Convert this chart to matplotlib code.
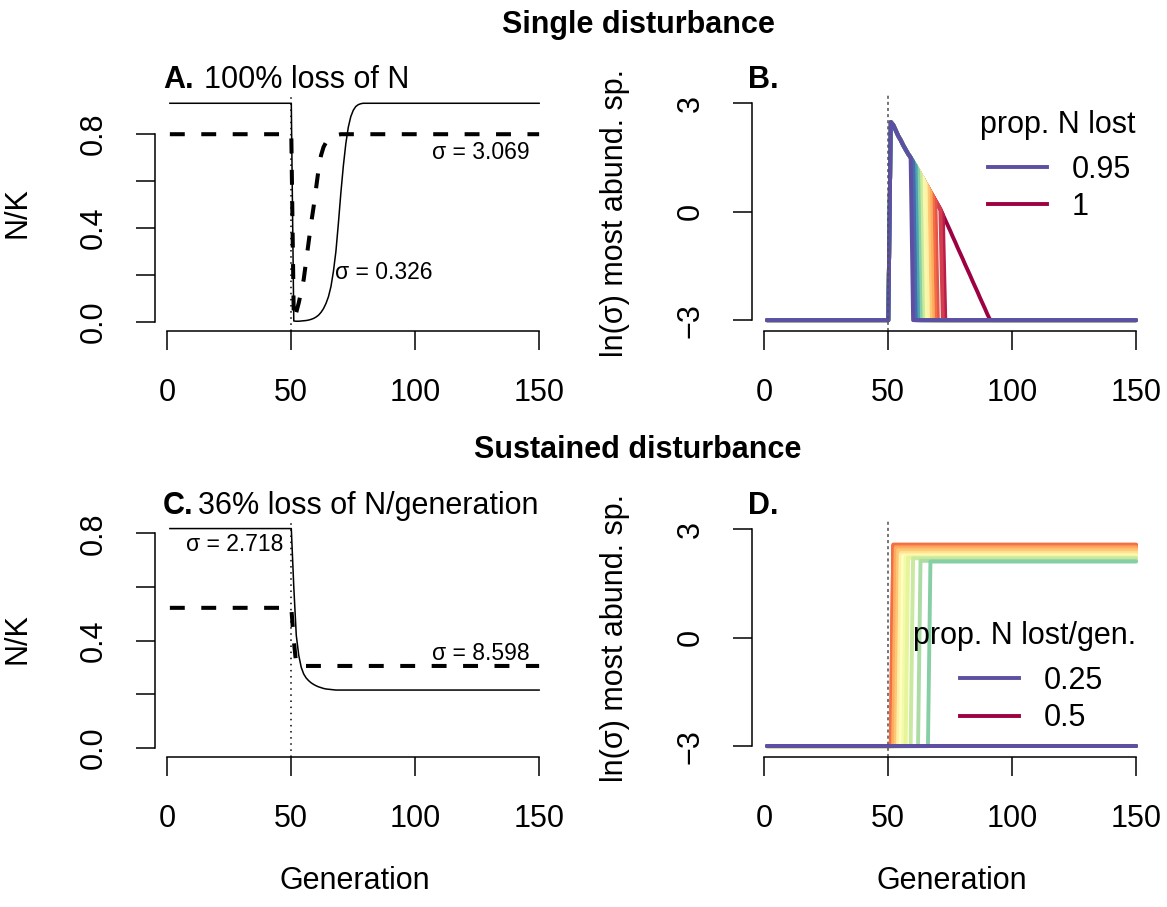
import numpy as np
import matplotlib
matplotlib.use("Agg")
from matplotlib import pyplot as plt
from matplotlib.lines import Line2D

plt.rcParams['font.family'] = ['Liberation Sans', 'DejaVu Sans']

generation = np.arange(1, 151)
n_gen = len(generation)
dist_gen = 50

# Panel A: N/K after a single 100% loss (values for generations 51..)
a_solid_level = 0.932
a_solid_recovery = [0.003, 0.002, 0.002, 0.003, 0.004, 0.005, 0.007, 0.010, 0.014, 0.020,
                    0.028, 0.040, 0.056, 0.078, 0.107, 0.150, 0.215, 0.300, 0.420, 0.550,
                    0.665, 0.760, 0.830, 0.875, 0.902, 0.918, 0.926, 0.930]
a_dashed_level = 0.80
a_dashed_recovery = [0.01, 0.04, 0.08, 0.13, 0.18, 0.26, 0.34, 0.42, 0.49, 0.57,
                     0.65, 0.71, 0.745, 0.765, 0.778, 0.786, 0.792, 0.796, 0.798]

# Panel C: N/K under a sustained 36% loss per generation
c_solid_before = 0.818
c_solid_decay = [0.60, 0.42, 0.345, 0.30, 0.275, 0.26, 0.25, 0.242, 0.236, 0.231,
                 0.227, 0.224, 0.221, 0.219, 0.218, 0.217, 0.216]
c_solid_after = 0.215
c_dashed_before = 0.522
c_dashed_decay = [0.40, 0.31]
c_dashed_after = 0.305

# Panel B: ln(sigma) of most abundant species, single disturbance
b_levels = [0.95, 0.9525, 0.955, 0.9575, 0.96, 0.9625, 0.965, 0.9675, 0.97, 0.9725, 0.975,
            0.9775, 0.98, 0.9825, 0.985, 0.9875, 0.99, 0.9925, 0.995, 0.9975, 1.0]
b_last_gen = [59, 60, 60, 61, 61, 62, 62, 63, 63, 64, 64,
              65, 65, 66, 67, 67, 68, 69, 71, 72, 91]
# ln(sigma) for generations 51..91
b_envelope = [2.48, 2.40, 2.25, 2.10, 1.98, 1.84, 1.72, 1.60, 1.50, 1.38,
              1.27, 1.15, 1.03, 0.91, 0.79, 0.67, 0.55, 0.43, 0.31, 0.19,
              0.07, -0.08, -0.23, -0.38, -0.53, -0.69, -0.84, -1.00, -1.15, -1.30,
              -1.46, -1.61, -1.76, -1.92, -2.07, -2.22, -2.38, -2.53, -2.68, -2.84, -2.98]
b_floor = -3.0

# Panel D: ln(sigma), sustained disturbance (None = stays at floor)
d_levels = [0.25, 0.2625, 0.275, 0.2875, 0.3, 0.3125, 0.325, 0.3375, 0.35, 0.3625, 0.375,
            0.3875, 0.4, 0.4125, 0.425, 0.4375, 0.45, 0.4625, 0.475, 0.4875, 0.5]
d_jump_gen = [None, None, None, None, None, 67, 63, 60, 58, 57, 56,
              55, 55, 54, 53, 53, 52, 52, None, None, None]
d_plateau = [None, None, None, None, None, 2.11, 2.13, 2.20, 2.22, 2.23, 2.25,
             2.30, 2.35, 2.42, 2.48, 2.52, 2.58, 2.55, None, None, None]
d_floor = -3.0


def build(before, middle, after):
    middle = np.asarray(middle, dtype=float)
    return np.concatenate([np.full(dist_gen, before), middle,
                           np.full(n_gen - dist_gen - len(middle), after)])


def px_rect(left, top, right, bottom):
    W, H = 1167.0, 907.0
    return [left / W, 1 - bottom / H, (right - left) / W, (bottom - top) / H]


def style_axes(ax, yticks, ylabels):
    for s in ['top', 'right']:
        ax.spines[s].set_visible(False)
    for s in ['left', 'bottom']:
        ax.spines[s].set_linewidth(1.1)
    ax.spines['left'].set_bounds(yticks[0], yticks[-1])
    ax.spines['bottom'].set_bounds(0, 150)
    ax.set_xticks([0, 50, 100, 150])
    ax.set_yticks(yticks, ylabels)
    ax.tick_params(length=13.7, width=1.1, labelsize=22)
    ax.tick_params(axis='x', pad=20)
    ax.tick_params(axis='y', pad=19.5, labelrotation=90)
    for lab in ax.get_yticklabels():
        lab.set_va('center')


fig = plt.figure(figsize=(11.67, 9.07), dpi=100)
axA = fig.add_axes(px_rect(155, 94.6, 554, 331))
axB = fig.add_axes(px_rect(752, 94.6, 1151, 331))
axC = fig.add_axes(px_rect(155, 520, 554, 757))
axD = fig.add_axes(px_rect(752, 520, 1151, 757))

spectral = plt.get_cmap('Spectral')
dash = (3.7, 4.1)

# A
axA.plot(generation, build(a_solid_level, a_solid_recovery, a_solid_level), color='black', lw=1.1)
axA.plot(generation, build(a_dashed_level, a_dashed_recovery, a_dashed_level), color='black',
         lw=2.9, dashes=dash)
axA.axvline(dist_gen, color='black', lw=1.1, linestyle=(0, (1, 3)))
axA.set_xlim(-5, 156)
axA.set_ylim(-0.0397, 0.969)
style_axes(axA, [0, 0.2, 0.4, 0.6, 0.8], ['0.0', '', '0.4', '', '0.8'])
axA.text(146.3, 0.724, 'σ = 3.069', ha='right', va='center', fontsize=16.5)
axA.text(67.6, 0.208, 'σ = 0.326', ha='left', va='center', fontsize=16.5)
axA.set_ylabel('N/K', fontsize=22)
axA.yaxis.set_label_coords(-0.306, 0.5)

# C
axC.plot(generation, build(c_solid_before, c_solid_decay, c_solid_after), color='black', lw=1.1)
axC.plot(generation, build(c_dashed_before, c_dashed_decay, c_dashed_after), color='black',
         lw=2.9, dashes=dash)
axC.axvline(dist_gen, color='black', lw=1.1, linestyle=(0, (1, 3)))
axC.set_xlim(-5, 156)
axC.set_ylim(-0.035, 0.85)
style_axes(axC, [0, 0.2, 0.4, 0.6, 0.8], ['0.0', '', '0.4', '', '0.8'])
axC.text(46.6, 0.760, 'σ = 2.718', ha='right', va='center', fontsize=16.5)
axC.text(146.3, 0.353, 'σ = 8.598', ha='right', va='center', fontsize=16.5)
axC.set_ylabel('N/K', fontsize=22)
axC.yaxis.set_label_coords(-0.306, 0.5)
axC.set_xlabel('Generation', fontsize=22)
axC.xaxis.set_label_coords(0.5, -0.46)

# B
for i in range(len(b_levels) - 1, -1, -1):
    y = np.full(n_gen, b_floor)
    last = b_last_gen[i]
    y[dist_gen:last] = b_envelope[:last - dist_gen]
    col = spectral((1.0 - b_levels[i]) / 0.05)
    axB.plot(generation, y, color=col, lw=2.8, solid_capstyle='round', solid_joinstyle='round')
axB.axvline(dist_gen, color='#505050', lw=1.1, dashes=(2, 2))
axB.set_xlim(-5, 156)
axB.set_ylim(-3.30, 3.24)
style_axes(axB, [-3, 0, 3], ['\u22123', '0', '3'])
axB.set_ylabel('ln(σ) most abund. sp.', fontsize=22)
axB.yaxis.set_label_coords(-0.306, 0.5)
hB = [Line2D([], [], color=spectral(1.0), lw=2.8), Line2D([], [], color=spectral(0.0), lw=2.8)]
axB.legend(hB, ['0.95', '1'], frameon=False, fontsize=22,
           loc='upper left', bbox_to_anchor=(0.5915, 0.746),
           borderpad=0, borderaxespad=0, handlelength=1.93, handletextpad=0.8,
           labelspacing=0.245)
axB.text(0.96, 0.838, 'prop. N lost', transform=axB.transAxes, ha='right', va='baseline',
         fontsize=22)

# D
for i in range(len(d_levels) - 1, -1, -1):
    y = np.full(n_gen, d_floor)
    if d_jump_gen[i] is not None:
        y[d_jump_gen[i] - 1:] = d_plateau[i]
    col = spectral((0.5 - d_levels[i]) / 0.25)
    axD.plot(generation, y, color=col, lw=2.8, solid_capstyle='round', solid_joinstyle='round')
axD.axvline(dist_gen, color='#505050', lw=1.1, dashes=(2, 2))
axD.set_xlim(-5, 156)
axD.set_ylim(-3.30, 3.26)
style_axes(axD, [-3, 0, 3], ['\u22123', '0', '3'])
axD.set_ylabel('ln(σ) most abund. sp.', fontsize=22)
axD.yaxis.set_label_coords(-0.306, 0.5)
axD.set_xlabel('Generation', fontsize=22)
axD.xaxis.set_label_coords(0.5, -0.46)
hD = [Line2D([], [], color=spectral(1.0), lw=2.8), Line2D([], [], color=spectral(0.0), lw=2.8)]
axD.legend(hD, ['0.25', '0.5'], frameon=False, fontsize=22,
           loc='upper left', bbox_to_anchor=(0.521, 0.385),
           borderpad=0, borderaxespad=0, handlelength=1.93, handletextpad=0.8,
           labelspacing=0.245)
axD.text(0.4035, 0.477, 'prop. N lost/gen.', transform=axD.transAxes, ha='left', va='baseline',
         fontsize=22)

# panel titles
axA.text(0.02, 1.027, 'A.', transform=axA.transAxes, fontsize=22, weight='bold', va='baseline')
axA.text(0.122, 1.027, '100% loss of N', transform=axA.transAxes, fontsize=22, va='baseline')
axB.text(-0.01, 1.027, 'B.', transform=axB.transAxes, fontsize=22, weight='bold', va='baseline')
axC.text(0.02, 1.027, 'C.', transform=axC.transAxes, fontsize=22, weight='bold', va='baseline')
axC.text(0.108, 1.027, '36% loss of N/generation', transform=axC.transAxes, fontsize=22,
         va='baseline')
axD.text(-0.01, 1.027, 'D.', transform=axD.transAxes, fontsize=22, weight='bold', va='baseline')

fig.text(638 / 1167, 1 - 33 / 907, 'Single disturbance', ha='center', va='baseline',
         fontsize=22, weight='bold')
fig.text(638 / 1167, 1 - 458 / 907, 'Sustained disturbance', ha='center', va='baseline',
         fontsize=22, weight='bold')

fig.savefig('out.png', dpi=100)
